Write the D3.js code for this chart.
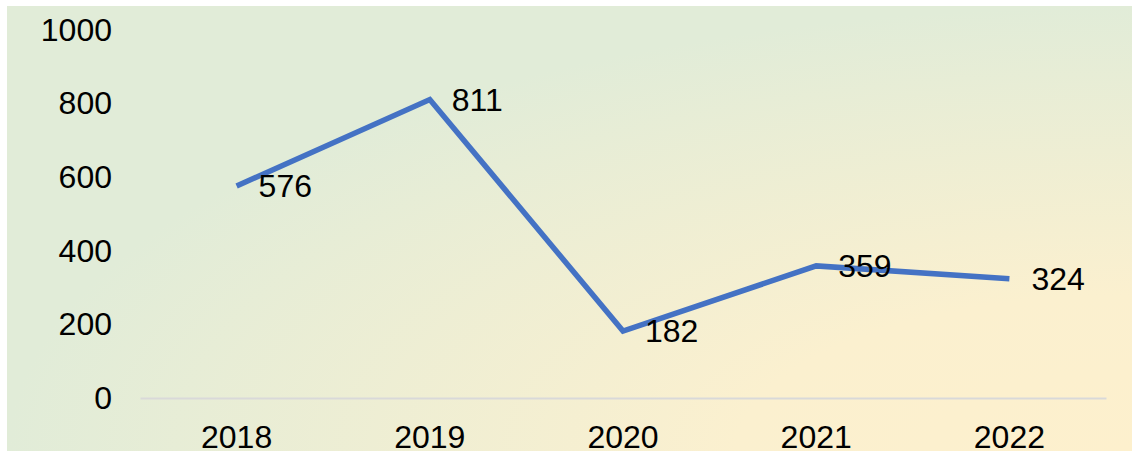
<!DOCTYPE html>
<html lang="en">
<head>
    <meta charset="UTF-8">
    <title>Line Chart 2018-2022</title>
    <style>
        html, body { margin: 0; padding: 0; background: #ffffff; }
        svg { display: block; }
        text { font-family: "Liberation Sans", Arial, sans-serif; fill: #000; }
    </style>
</head>
<body>
    <div id="d3-container"></div>

    <script src="https://d3js.org/d3.v7.min.js"></script>
    <script>
        const years = ["2018", "2019", "2020", "2021", "2022"];
        const values = [576, 811, 182, 359, 324];
        const yTicks = [0, 200, 400, 600, 800, 1000];

        const width = 1132;
        const height = 453;
        const margin = { top: 30, bottom: 55, left: 140, right: 26 };

        const svg = d3.select('#d3-container')
            .append('svg')
            .attr('width', width)
            .attr('height', height);

        // background, yellow in the lower right fading to green
        const grad = svg.append('defs').append('radialGradient')
            .attr('id', 'bg')
            .attr('cx', 1).attr('cy', 1).attr('r', 1)
            .attr('fx', 1).attr('fy', 1);
        grad.append('stop').attr('offset', 0).attr('stop-color', '#fdf0cd');
        grad.append('stop').attr('offset', 0.35).attr('stop-color', '#fbf0cf');
        grad.append('stop').attr('offset', 1).attr('stop-color', '#e1ecd8');

        svg.append('rect')
            .attr('x', 7).attr('y', 6)
            .attr('width', width - 7).attr('height', 445)
            .attr('fill', 'url(#bg)');

        const x = d3.scaleBand()
            .domain(years)
            .range([margin.left, width - margin.right]);

        const y = d3.scaleLinear()
            .domain([0, 1000])
            .range([398, margin.top]);

        // y axis labels, no line
        svg.append('g')
            .attr('transform', 'translate(112,0)')
            .call(d3.axisLeft(y).tickValues(yTicks).tickFormat(d3.format('d')).tickSize(0).tickPadding(0))
            .call(g => g.select('.domain').remove())
            .call(g => g.selectAll('text')
                .attr('font-size', '32px')
                .attr('font-family', '"Liberation Sans", Arial, sans-serif')
                .attr('fill', '#000'));

        // x axis
        svg.append('g')
            .attr('transform', `translate(0,${y(0)})`)
            .call(d3.axisBottom(x).tickSize(0).tickPadding(27))
            .call(g => g.select('.domain')
                .attr('stroke', '#d9d9d9')
                .attr('stroke-width', 2))
            .call(g => g.selectAll('text')
                .attr('font-size', '32px')
                .attr('font-family', '"Liberation Sans", Arial, sans-serif')
                .attr('fill', '#000'));

        const cx = (d, i) => x(years[i]) + x.bandwidth() / 2;

        const line = d3.line()
            .x((d, i) => cx(d, i))
            .y(d => y(d));

        svg.append('path')
            .datum(values)
            .attr('fill', 'none')
            .attr('stroke', '#4472c4')
            .attr('stroke-width', 5.5)
            .attr('stroke-linejoin', 'miter')
            .attr('d', line);

        svg.append('g')
            .selectAll('text')
            .data(values)
            .join('text')
            .attr('x', (d, i) => cx(d, i) + 22)
            .attr('y', d => y(d))
            .attr('dy', '0.35em')
            .attr('font-size', '32px')
            .text(d => d);
    </script>
</body>
</html>
